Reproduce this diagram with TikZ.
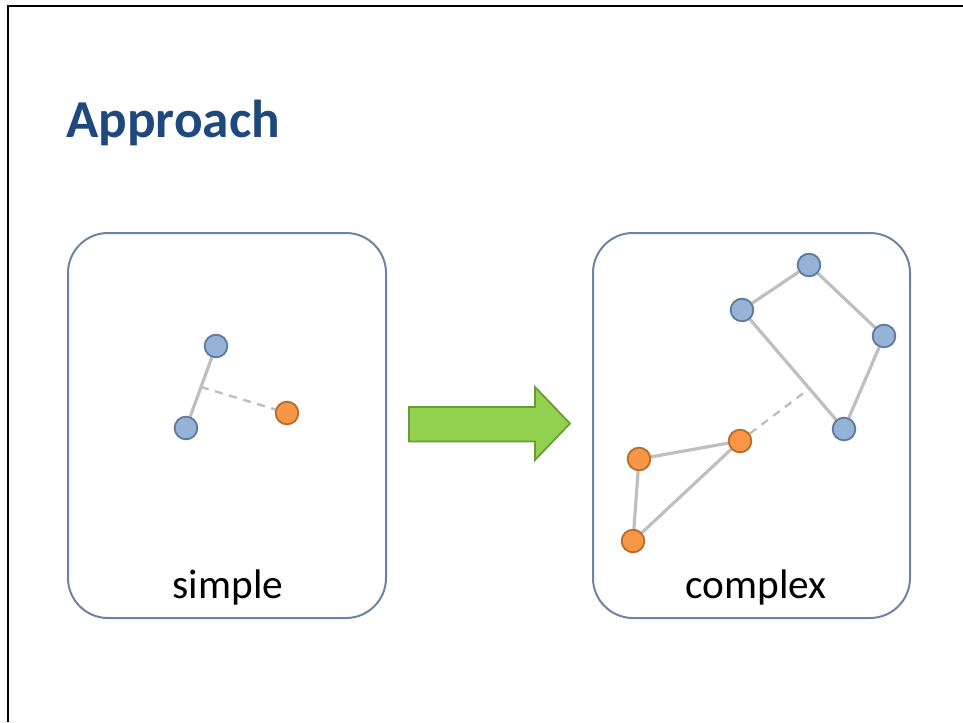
\documentclass[tikz,border=0pt]{standalone}
\usepackage{fontspec}
\setmainfont{Carlito}
\usetikzlibrary{calc,backgrounds}
\definecolor{titleblue}{HTML}{1F497D}
\definecolor{boxline}{HTML}{6B84A3}
\definecolor{bluefill}{HTML}{95B3D7}
\definecolor{blueline}{HTML}{5F7A9C}
\definecolor{orangefill}{HTML}{F79646}
\definecolor{orangeline}{HTML}{B86D2C}
\definecolor{edgegray}{HTML}{BFBFBF}
\definecolor{arrowfill}{HTML}{92D050}
\definecolor{arrowline}{HTML}{6A9A38}
\tikzset{
  panel/.style={draw=boxline, line width=1.5pt, rounded corners=30pt},
  bnode/.style={circle, draw=blueline, fill=bluefill, line width=1.4pt, minimum size=17pt, inner sep=0pt},
  onode/.style={circle, draw=orangeline, fill=orangefill, line width=1.4pt, minimum size=17pt, inner sep=0pt},
  link/.style={draw=edgegray, line width=2.4pt},
  weaklink/.style={draw=edgegray, line width=1.8pt, dash pattern=on 6pt off 5pt},
  caption/.style={font=\fontsize{31}{37}\selectfont, anchor=base, text=black}
}
\begin{document}
\begin{tikzpicture}[x=0.75pt, y=-0.75pt]
  \useasboundingbox (0,0) rectangle (963,722);
  % page frame (top and left edges)
  \draw[line width=1.6pt, black] (963,6) -- (8,6) -- (8,722);

  % title
  \node[anchor=base west, inner sep=0pt, text=titleblue,
        font=\fontsize{40}{48}\selectfont\bfseries] (title) at (66,137) {Approach};

  % two panels
  \draw[panel] (68,233) rectangle (386,618);
  \draw[panel] (593,233) rectangle (910,618);
  \node[caption] (lsimple) at (228,598) {simple};
  \node[caption] (lcomplex) at (756,598) {complex};

  % simple graph
  \node[bnode] (s1) at (216,346) {};
  \node[bnode] (s2) at (186,428) {};
  \node[onode] (s3) at (287,413) {};
  \coordinate (sm) at ($(s1)!0.5!(s2)$);
  \begin{scope}[on background layer]
    \draw[link] (s1) -- (s2);
    \draw[weaklink] (sm) -- (s3);
  \end{scope}

  % arrow between panels
  \draw[fill=arrowfill, draw=arrowline, line width=1.3pt, line join=miter]
    (409,407) -- (535,407) -- (535,387) -- (570,423.5) -- (535,460) -- (535,441.5) -- (409,441.5) -- cycle;

  % complex graph
  \node[bnode] (c1) at (809,265) {};
  \node[bnode] (c2) at (742,310) {};
  \node[bnode] (c3) at (884,336) {};
  \node[bnode] (c4) at (844,429) {};
  \node[onode] (c5) at (740,441) {};
  \node[onode] (c6) at (639,459) {};
  \node[onode] (c7) at (633,541) {};
  \coordinate (cm) at ($(c2)!0.66!(c4)$);
  \begin{scope}[on background layer]
    \draw[link] (c2) -- (c1) -- (c3) -- (c4) -- (c2);
    \draw[link] (c5) -- (c6) -- (c7) -- (c5);
    \draw[weaklink] (c5) -- (cm);
  \end{scope}
\end{tikzpicture}
\end{document}
